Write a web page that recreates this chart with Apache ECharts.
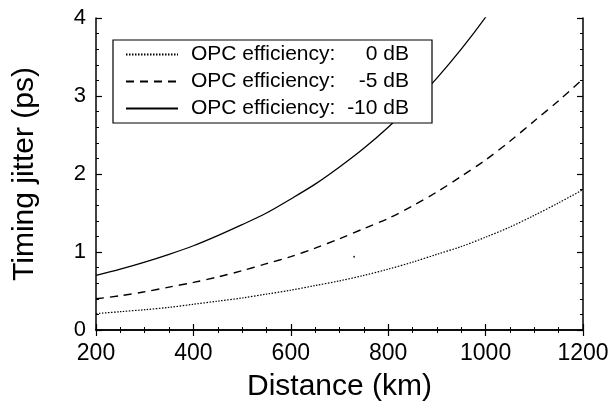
<!DOCTYPE html>
<html>
<head>
<meta charset="utf-8">
<script src="https://cdn.jsdelivr.net/npm/echarts@6/dist/echarts.min.js"></script>
<style>html,body{margin:0;padding:0;background:#fff}#c{width:613px;height:407px}</style>
</head>
<body>
<div id="c"></div>
<script>
var distances = [200,250,300,350,400,450,500,550,600,650,700,750,800,850,900,950,1000,1050,1100,1150,1200];
var jitter0dB  = [0.21,0.235,0.26,0.29,0.33,0.37,0.41,0.46,0.51,0.57,0.63,0.70,0.78,0.87,0.97,1.07,1.19,1.32,1.47,1.63,1.80];
var jitter5dB  = [0.40,0.44,0.49,0.55,0.61,0.68,0.76,0.85,0.94,1.05,1.17,1.30,1.43,1.59,1.77,1.97,2.18,2.42,2.68,2.94,3.22];
var jitter10dB = [0.70,0.78,0.87,0.97,1.08,1.21,1.35,1.50,1.68,1.87,2.09,2.33,2.60,2.90,3.23,3.60,4.01,4.47];
var strayDot = [[730,0.94]];
var seriesNames = ['OPC efficiency: 0 dB','OPC efficiency: -5 dB','OPC efficiency: -10 dB'];
var legendValues = ['0 dB','-5 dB','-10 dB'];
var xTicks = [200,400,600,800,1000,1200];
var yTicks = [0,1,2,3,4];

function pairs(xs, ys){ return ys.map(function(v,i){ return [xs[i], v]; }); }

var FONT = '"Liberation Sans", Arial, Helvetica, sans-serif';
var chart = echarts.init(document.getElementById('c'), null, {renderer:'canvas'});
var axisLine = {show:true, lineStyle:{color:'#000', width:1.5}};
var xCommon = {type:'value', min:200, max:1200, interval:200,
  axisLine:axisLine, axisTick:{show:true, inside:true, length:6, lineStyle:{color:'#000', width:1.2}},
  minorTick:{show:true, splitNumber:4, length:3, lineStyle:{color:'#000', width:1}},
  splitLine:{show:false}};
var yCommon = {type:'value', min:0, max:4, interval:1,
  axisLine:axisLine, axisTick:{show:true, inside:true, length:6, lineStyle:{color:'#000', width:1.2}},
  minorTick:{show:true, splitNumber:5, length:3, lineStyle:{color:'#000', width:1}},
  splitLine:{show:false}};

chart.setOption({
  animation:false,
  backgroundColor:'#fff',
  textStyle:{fontFamily:FONT},
  grid:{left:96, right:30, top:18, bottom:73, containLabel:false},
  xAxis:[
    Object.assign({}, xCommon, {position:'bottom', name:'Distance (km)', nameLocation:'middle', nameGap:42,
      nameTextStyle:{fontSize:30, color:'#000', fontFamily:FONT},
      axisLabel:{show:true, fontSize:23, color:'#000', margin:12, fontFamily:FONT,
        formatter:function(v){ return xTicks.indexOf(v) >= 0 ? String(v) : ''; }}}),
    Object.assign({}, xCommon, {position:'top', axisLabel:{show:false}})
  ],
  yAxis:[
    Object.assign({}, yCommon, {position:'left', name:'Timing jitter (ps)', nameLocation:'middle', nameGap:56,
      nameTextStyle:{fontSize:30, color:'#000', fontFamily:FONT},
      axisLabel:{show:true, fontSize:22, color:'#000', margin:10, fontFamily:FONT,
        formatter:function(v){ return yTicks.indexOf(v) >= 0 ? String(v) : ''; }}}),
    Object.assign({}, yCommon, {position:'right', axisLabel:{show:false}})
  ],
  legend:{
    show:true, orient:'vertical', left:113, top:40,
    data:seriesNames,
    itemWidth:52, itemHeight:20, itemGap:6,
    padding:[4,23,4,12],
    borderColor:'#000', borderWidth:1.2, backgroundColor:'#fff',
    selectedMode:false,
    itemStyle:{opacity:0},
    formatter:function(name){ var i = seriesNames.indexOf(name); return '{a|OPC efficiency:}{b|' + legendValues[i] + '}'; },
    textStyle:{color:'#000', fontSize:21, lineHeight:20, fontFamily:FONT,
      rich:{a:{fontSize:21, lineHeight:20, width:150, padding:[0,0,0,8], color:'#000', fontFamily:FONT},
            b:{fontSize:21, lineHeight:20, width:68, align:'right', color:'#000', fontFamily:FONT}}}
  },
  series:[
    {name:seriesNames[0], type:'line', data:pairs(distances, jitter0dB), symbol:'none', smooth:0.3,
      lineStyle:{color:'#000', width:1.2, type:[1.5,1.5]}, itemStyle:{color:'#000'}},
    {name:seriesNames[1], type:'line', data:pairs(distances, jitter5dB), symbol:'none', smooth:0.3,
      lineStyle:{color:'#000', width:1.4, type:[8,6]}, itemStyle:{color:'#000'}},
    {name:seriesNames[2], type:'line', data:pairs(distances, jitter10dB), symbol:'none', smooth:0.3,
      lineStyle:{color:'#000', width:1.3, type:'solid'}, itemStyle:{color:'#000'}},
    {name:'dot', type:'scatter', data:strayDot, symbolSize:2, itemStyle:{color:'#000'}, silent:true}
  ]
});
</script>
</body>
</html>
